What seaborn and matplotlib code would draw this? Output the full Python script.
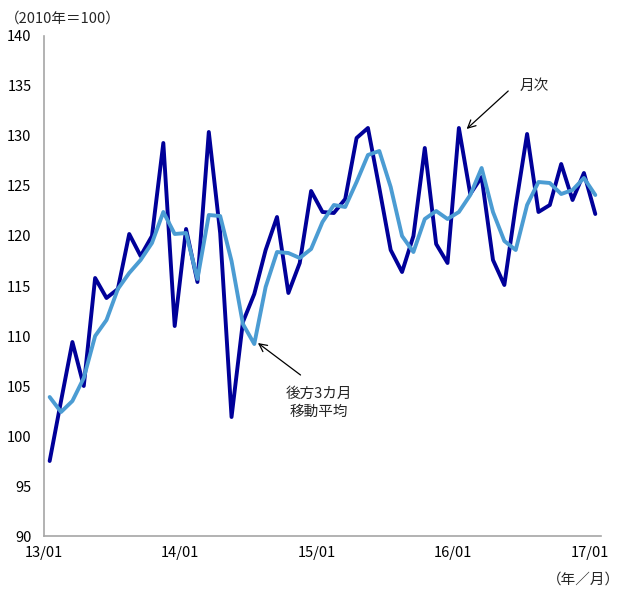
import numpy as np
import pandas as pd
import matplotlib
matplotlib.use("Agg")
import matplotlib.pyplot as plt
import seaborn as sns

# monthly index, 2013/01 - 2017/01 (2010 = 100)
monthly = [97.5, 103.5, 109.4, 105.0, 115.8, 113.8, 114.7, 120.2, 118.0, 120.0,
           129.3, 111.0, 120.7, 115.4, 130.4, 120.3, 101.9, 111.4, 114.2, 118.6,
           121.9, 114.3, 117.3, 124.5, 122.4, 122.3, 123.7, 129.8, 130.8, 124.8,
           118.6, 116.4, 120.0, 128.8, 119.2, 117.3, 130.8, 124.2, 125.9, 117.6,
           115.1, 123.0, 130.2, 122.4, 123.1, 127.2, 123.6, 126.3, 122.2]
# backward 3-month moving average
moving_avg = [103.9, 102.4, 103.5, 105.8, 110.0, 111.6, 114.7, 116.3, 117.6, 119.3,
              122.4, 120.2, 120.3, 115.7, 122.1, 122.0, 117.5, 111.2, 109.2, 114.9,
              118.4, 118.3, 117.8, 118.7, 121.4, 123.1, 122.9, 125.4, 128.1, 128.5,
              124.9, 120.0, 118.4, 121.7, 122.5, 121.7, 122.4, 124.1, 126.8, 122.4,
              119.5, 118.6, 123.1, 125.4, 125.3, 124.2, 124.6, 125.8, 124.1]
tick_labels = ['13/01', '14/01', '15/01', '16/01', '17/01']
y_ticks = [90, 95, 100, 105, 110, 115, 120, 125, 130, 135, 140]

sns.set_style("white")
plt.rcParams['font.family'] = ['Noto Sans CJK JP', 'DejaVu Sans']

df = pd.DataFrame({'month': np.arange(len(monthly)),
                   'monthly': monthly, 'ma': moving_avg})

fig = plt.figure(figsize=(6.22, 5.9), dpi=100)
ax = fig.add_axes([0.0707, 0.0915, 0.8955, 0.8475])

sns.lineplot(data=df, x='month', y='monthly', ax=ax, color='#000099', linewidth=2.8)
sns.lineplot(data=df, x='month', y='ma', ax=ax, color='#4B9CD3', linewidth=2.8)

ax.set_xlim(-0.5, 48.5)
ax.set_ylim(90, 140)
ax.set_xticks([-0.5 + 12 * i for i in range(len(tick_labels))])
ax.set_xticklabels(tick_labels)
ax.set_yticks(y_ticks)
ax.set_xlabel('')
ax.set_ylabel('')

for side in ['top', 'right']:
    ax.spines[side].set_visible(False)
for side in ['left', 'bottom']:
    ax.spines[side].set_color('#A6A6A6')
    ax.spines[side].set_linewidth(1.2)
ax.tick_params(axis='both', direction='out', length=3, width=1, color='#A6A6A6',
               labelsize=10.5, labelcolor='black')
ax.tick_params(axis='y', pad=6)
ax.tick_params(axis='x', pad=4.5)

fig.text(0.008, 0.968, '（2010年＝100）', fontsize=10.5, ha='left', va='center')
fig.text(0.996, 0.017, '（年／月）', fontsize=10.5, ha='right', va='center')

arrow = dict(arrowstyle='->', color='black', lw=0.9, shrinkA=0, shrinkB=0,
             mutation_scale=14)
ax.annotate('', xy=(36.68, 130.7), xytext=(40.34, 134.5), arrowprops=arrow)
ax.text(42.6, 135.0, '月次', fontsize=10.5, ha='center', va='center')
ax.annotate('', xy=(18.32, 109.3), xytext=(22.07, 106.1), arrowprops=arrow)
ax.text(23.69, 103.3, '後方3カ月\n移動平均', fontsize=10.5, ha='center', va='center',
        linespacing=1.4)

fig.savefig('out.png', dpi=100)
